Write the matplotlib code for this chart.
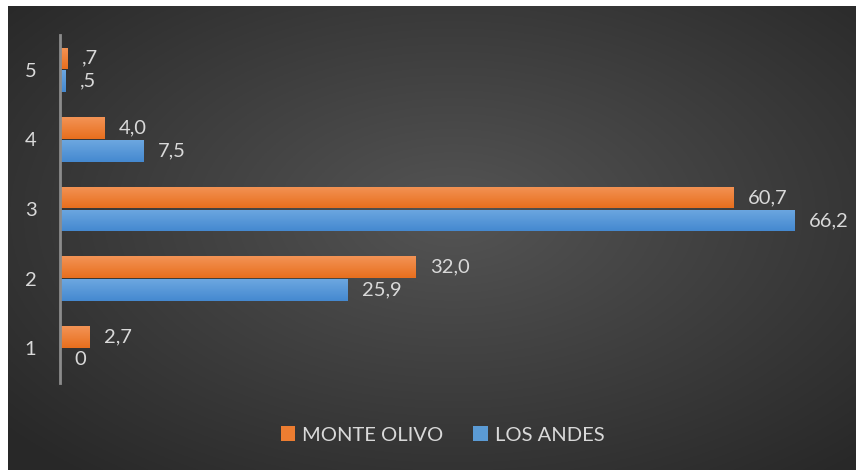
import numpy as np
import matplotlib
matplotlib.use('Agg')
import matplotlib.pyplot as plt
from matplotlib.patches import Patch

plt.rcParams['font.family'] = ['Lato', 'DejaVu Sans']

## donnees

categorias = [1, 2, 3, 4, 5]
monte_olivo = [2.7, 32.0, 60.7, 4.0, 0.7]
los_andes = [0.0, 25.9, 66.2, 7.5, 0.5]
series = ['MONTE OLIVO', 'LOS ANDES']

COL_NAR = '#ED7D31'
COL_AZU = '#5B9BD5'
TXT = '#D9D9D9'
FS = 14.5


def etiqueta(v):
    if v == 0:
        return '0'
    s = f'{v:.1f}'.replace('.', ',')
    if v < 1:
        s = s[1:]
    return s


def degradado(ax, barras, arriba, abajo):
    # petit degrade vertical dans chaque barre
    c1 = np.array(matplotlib.colors.to_rgb(arriba))
    c2 = np.array(matplotlib.colors.to_rgb(abajo))
    t = np.linspace(0, 1, 32)[:, None]
    img = (c1 * (1 - t) + c2 * t)[:, None, :]
    for b in barras:
        x0, y0 = b.get_x(), b.get_y()
        w, h = b.get_width(), b.get_height()
        if w <= 0:
            continue
        im = ax.imshow(img, extent=(x0, x0 + w, y0, y0 + h), aspect='auto',
                       origin='upper', zorder=3)
        im.set_clip_path(b)


fig = plt.figure(figsize=(8.56, 4.70), dpi=100)
fig.patch.set_facecolor('white')

# fond gris radial
bg = fig.add_axes([8 / 856, 0, 848 / 856, 464 / 470])
yy, xx = np.mgrid[-1:1:300j, -1:1:500j]
r = np.clip(np.sqrt(((xx - 0.05) * 0.95) ** 2 + ((yy + 0.1) * 0.9) ** 2), 0, 1.3)
val = 0.33 - 0.17 * (r / 1.3)
bg.imshow(np.dstack([val, val, val]), aspect='auto', extent=(0, 1, 0, 1))
bg.set_axis_off()

ax = fig.add_axes([60 / 856, 87 / 470, 777 / 856, 348 / 470])
ax.set_facecolor('none')

y = np.array(categorias, dtype=float)
h = 0.31
off = 0.165
b1 = ax.barh(y + off, monte_olivo, height=h, color=COL_NAR, zorder=2)
b2 = ax.barh(y - off, los_andes, height=h, color=COL_AZU, zorder=2)
degradado(ax, b1, '#F39355', '#E86F1E')
degradado(ax, b2, '#6CA7E0', '#4589D0')

for yi, v in zip(y + off, monte_olivo):
    ax.text(v + 1.3, yi, etiqueta(v), color=TXT, fontsize=FS, va='center', ha='left')
for yi, v in zip(y - off, los_andes):
    ax.text(v + 1.3, yi, etiqueta(v), color=TXT, fontsize=FS, va='center', ha='left')

ax.set_xlim(0, 70)
ax.set_ylim(0.5, 5.5)
ax.set_yticks(categorias)
ax.set_yticklabels([str(c) for c in categorias])
ax.set_xticks([])
ax.tick_params(axis='y', length=0, pad=17, labelcolor=TXT, labelsize=FS)
for s in ['top', 'right', 'bottom']:
    ax.spines[s].set_visible(False)
ax.spines['left'].set_color('#8C8C8C')
ax.spines['left'].set_linewidth(2)
ax.spines['left'].set_zorder(5)

handles = [Patch(facecolor=COL_NAR), Patch(facecolor=COL_AZU)]
fig.legend(handles, series, loc='center', bbox_to_anchor=(0.517, 35 / 470), ncol=2,
           frameon=False, fontsize=FS, labelcolor=TXT, handlelength=0.7,
           handleheight=0.7, handletextpad=0.35, columnspacing=1.5)

fig.savefig('out.png', dpi=100)
